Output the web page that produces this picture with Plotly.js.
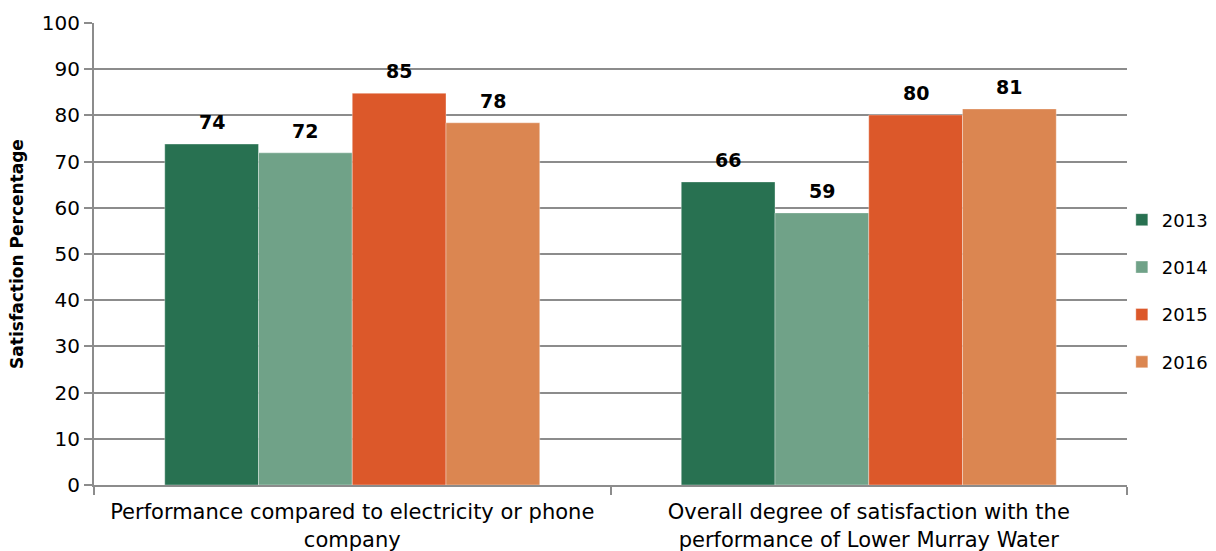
<!DOCTYPE html>
<html><head><meta charset="utf-8">
<script src="https://cdn.plot.ly/plotly-3.0.1.min.js"></script>
<style>html,body{margin:0;padding:0;background:#fff}#chart{width:1216px;height:551px}</style>
</head><body><div id="chart"></div>
<script>
const categories = ["Performance compared to electricity or phone<br>company",
                    "Overall degree of satisfaction with the<br>performance of Lower Murray Water"];
const seriesNames = ["2013", "2014", "2015", "2016"];
const v2013 = [73.8, 65.6];
const v2014 = [71.9, 58.9];
const v2015 = [84.8, 80.1];
const v2016 = [78.4, 81.4];
const colors = ["#287151", "#70A288", "#DC582A", "#DB8651"];
const yTicks = [0,10,20,30,40,50,60,70,80,90,100];

const values = [v2013, v2014, v2015, v2016];
const bargap = 0.274;
const FONT = "DejaVu Sans, Verdana, sans-serif";

const traces = values.map((vals, i) => ({
  type: "bar", name: seriesNames[i], legendgroup: "g" + i, x: categories, y: vals,
  marker: {color: colors[i], line: {color: "rgba(255,255,255,0.35)", width: 1}},
  hoverinfo: "skip"
}));

const annotations = [];
const bw = (1 - bargap) / values.length;
values.forEach((vals, i) => {
  vals.forEach((v, j) => {
    annotations.push({
      xref: "x", yref: "y", x: j - (1 - bargap) / 2 + (i + 0.5) * bw, y: v,
      text: "<b>" + Math.round(v) + "</b>", showarrow: false,
      yanchor: "bottom", yshift: 9,
      font: {family: FONT, size: 19, color: "#000"}
    });
  });
});

const layout = {
  width: 1216, height: 551,
  margin: {l: 94, r: 89, t: 23, b: 66, autoexpand: false},
  paper_bgcolor: "#fff", plot_bgcolor: "#fff",
  barmode: "group", bargap: bargap, bargroupgap: 0,
  font: {family: FONT, color: "#000"},
  xaxis: {
    type: "category", range: [-0.5, 1.5],
    showline: true, linecolor: "#8c8c8c", linewidth: 2,
    ticks: "outside", tickson: "boundaries", ticklen: 8, tickcolor: "#8c8c8c", tickwidth: 2,
    tickfont: {family: FONT, size: 21, color: "#000"}, ticklabelstandoff: 7,
    showgrid: false, zeroline: false, automargin: false
  },
  yaxis: {
    range: [0, 100], tickvals: yTicks, ticktext: yTicks.map(String),
    showline: true, linecolor: "#8c8c8c", linewidth: 2,
    ticks: "outside", ticklen: 8, tickcolor: "#8c8c8c", tickwidth: 2,
    showgrid: true, gridcolor: "#8c8c8c", gridwidth: 2,
    zeroline: false,
    tickfont: {family: FONT, size: 20, color: "#000"},
    title: {text: "<b>Satisfaction Percentage</b>", font: {family: FONT, size: 17, color: "#000"}, standoff: 14},
    automargin: false
  },
  legend: {
    x: 0.995, xanchor: "left", y: 0.42, yanchor: "middle",
    font: {family: FONT, size: 18, color: "#000"},
    tracegroupgap: 21, traceorder: "grouped",
    bgcolor: "rgba(0,0,0,0)"
  },
  annotations: annotations,
  showlegend: true
};

Plotly.newPlot("chart", traces, layout, {displayModeBar: false, staticPlot: true});
</script></body></html>
